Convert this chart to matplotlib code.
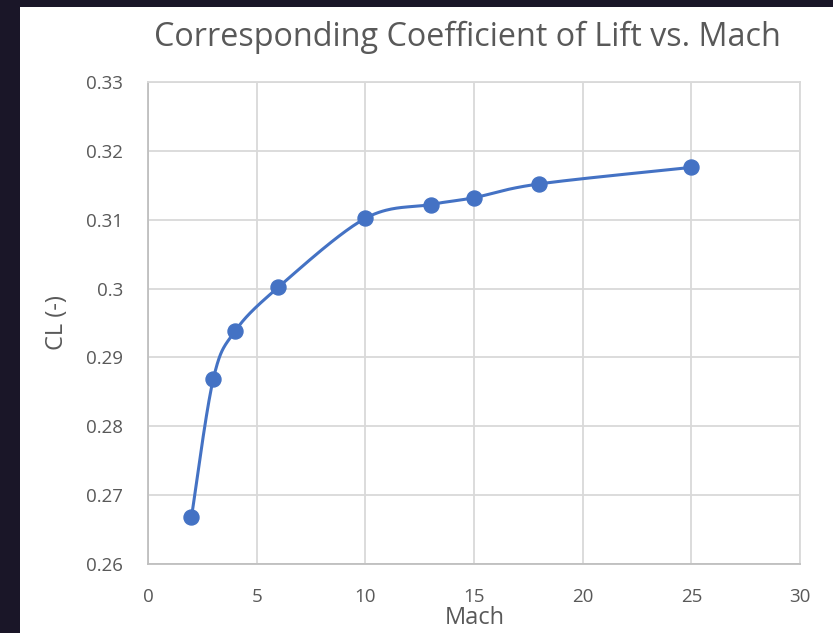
import numpy as np
import matplotlib
matplotlib.use("Agg")
import matplotlib.pyplot as plt
from matplotlib.patches import Rectangle

mach = [2, 3, 4, 6, 10, 13, 15, 18, 25]
cl = [0.2668, 0.2868, 0.2938, 0.3002, 0.3102, 0.3122, 0.3132, 0.3152, 0.3176]
x_ticks = [0, 5, 10, 15, 20, 25, 30]
y_ticks = [0.26, 0.27, 0.28, 0.29, 0.30, 0.31, 0.32, 0.33]
y_labels = ["0.26", "0.27", "0.28", "0.29", "0.3", "0.31", "0.32", "0.33"]
title = "Corresponding Coefficient of Lift vs. Mach"
xlabel = "Mach"
ylabel = "CL (-)"

plt.rcParams['font.family'] = ['Open Sans', 'DejaVu Sans']
W, H = 833, 633
fig = plt.figure(figsize=(W / 100, H / 100), dpi=100, facecolor="#1a1628")
fig.patches.append(Rectangle((20 / W, 0), 1 - 20 / W, 1 - 7 / H, transform=fig.transFigure,
                             facecolor="white", edgecolor="none", zorder=-10))

ax = fig.add_axes([148 / W, 1 - 564 / H, (800 - 148) / W, (564 - 82) / H])
ax.set_facecolor("white")


def smooth(xs, ys, n=40):
    # Catmull-Rom style cubic Bezier smoothing (like Excel's smoothed line)
    xs = np.asarray(xs, float); ys = np.asarray(ys, float)
    P = np.column_stack([xs, ys])
    P = np.vstack([P[0], P, P[-1]])
    out = []
    t = np.linspace(0, 1, n)[:, None]
    for i in range(1, len(P) - 2):
        p0, p1 = P[i], P[i + 1]
        c1 = p0 + (P[i + 1] - P[i - 1]) / 6
        c2 = p1 - (P[i + 2] - P[i]) / 6
        b = (1 - t) ** 3 * p0 + 3 * (1 - t) ** 2 * t * c1 + 3 * (1 - t) * t ** 2 * c2 + t ** 3 * p1
        out.append(b)
    out = np.vstack(out)
    return out[:, 0], out[:, 1]


sx = 652 / 30.0
sy = 482 / 0.07
fx, fy = smooth(np.array(mach) * sx, np.array(cl) * sy)
ax.plot(fx / sx, fy / sy, color="#4472C4", lw=2.2, solid_capstyle="round", zorder=3)
ax.plot(mach, cl, "o", color="#4472C4", ms=10.8, zorder=4)

ax.set_xlim(0, 30)
ax.set_ylim(0.26, 0.33)
ax.set_xticks(x_ticks)
ax.set_yticks(y_ticks)
ax.set_yticklabels(y_labels)
ax.grid(True, color="#d9d9d9", lw=1.3)
ax.set_axisbelow(True)
for s in ["top", "right"]:
    ax.spines[s].set_color("#d9d9d9"); ax.spines[s].set_linewidth(1.3)
for s in ["left", "bottom"]:
    ax.spines[s].set_color("#bfbfbf"); ax.spines[s].set_linewidth(1.3)
ax.tick_params(length=0, labelsize=13.5, labelcolor="#595959")
ax.tick_params(axis="y", pad=18)
ax.tick_params(axis="x", pad=17.5)

fig.text(467 / W, 1 - 37 / H, title, ha="center", va="center", fontsize=23.3, color="#595959")
fig.text(475 / W, 1 - 618 / H, xlabel, ha="center", va="center", fontsize=17, color="#595959")
fig.text(57 / W, 1 - 323 / H, ylabel, ha="center", va="center", fontsize=17, color="#595959", rotation=90)

fig.savefig("out.png", dpi=100, facecolor=fig.get_facecolor())
